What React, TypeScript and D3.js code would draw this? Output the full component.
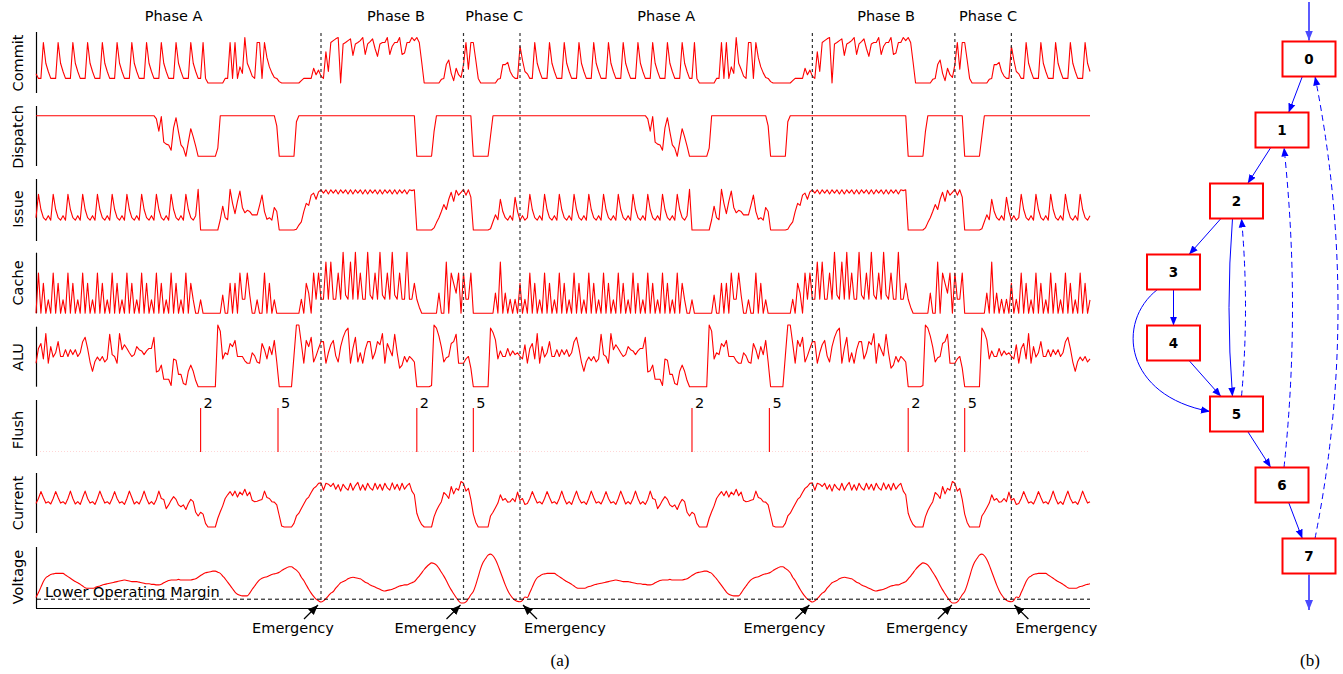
import { useEffect, useRef } from 'react'
import * as d3 from 'd3'

// One loop iteration of the workload (Phase A -> B -> C), 200 samples.
// The trace shows this iteration twice and then the start of a third one.
const commitCycle = [
  20, 10, 10, 88, 43, 25, 10, 10, 10, 88,
  43, 25, 10, 10, 10, 88, 43, 25, 10, 10,
  10, 88, 43, 25, 10, 10, 10, 88, 43, 25,
  10, 10, 10, 88, 43, 25, 10, 10, 10, 88,
  43, 25, 10, 10, 10, 88, 43, 25, 10, 10,
  10, 88, 43, 25, 10, 10, 10, 88, 43, 25,
  10, 10, 10, 88, 43, 25, 10, 10, 88, 10,
  0, 0, 0, 0, 0, 0, 0, 10, 10, 88,
  10, 88, 10, 35, 21, 99, 43, 30, 15, 10,
  88, 88, 10, 88, 55, 35, 22, 12, 10, 3,
  0, 0, 0, 0, 0, 0, 0, 0, 5, 10,
  10, 10, 10, 32, 18, 28, 15, 10, 68, 25,
  88, 92, 96, 99, 0, 85, 88, 92, 96, 60,
  85, 88, 92, 99, 62, 85, 90, 96, 75, 58,
  85, 88, 88, 99, 62, 80, 88, 88, 99, 62,
  65, 88, 88, 99, 92, 99, 88, 45, 0, 0,
  0, 0, 0, 0, 0, 8, 10, 40, 50, 21,
  5, 32, 18, 12, 40, 88, 30, 88, 88, 50,
  10, 0, 0, 0, 0, 0, 0, 0, 8, 10,
  40, 40, 45, 25, 15, 10, 10, 80, 50, 25,
]

const dispatchCycle = [
  100, 100, 100, 100, 100, 100, 100, 100, 100, 100,
  100, 100, 100, 100, 100, 100, 100, 100, 100, 100,
  100, 100, 100, 100, 100, 100, 100, 100, 100, 100,
  100, 100, 100, 100, 100, 100, 100, 100, 100, 100,
  100, 100, 100, 100, 100, 100, 100, 100, 100, 92,
  62, 98, 35, 30, 28, 15, 70, 95, 60, 28,
  20, 0, 35, 68, 48, 25, 0, 0, 0, 0,
  0, 0, 0, 0, 20, 100, 100, 100, 100, 100,
  100, 100, 100, 100, 100, 100, 100, 100, 100, 100,
  100, 100, 100, 100, 100, 100, 100, 100, 75, 0,
  0, 0, 0, 0, 0, 0, 85, 100, 100, 100,
  100, 100, 100, 100, 100, 100, 100, 100, 100, 100,
  100, 100, 100, 100, 100, 100, 100, 100, 100, 100,
  100, 100, 100, 100, 100, 100, 100, 100, 100, 100,
  100, 100, 100, 100, 100, 100, 100, 100, 100, 100,
  100, 100, 100, 100, 100, 0, 0, 0, 0, 0,
  0, 0, 60, 100, 100, 100, 100, 100, 100, 100,
  100, 100, 100, 100, 100, 100, 100, 100, 0, 0,
  0, 0, 0, 0, 0, 50, 100, 100, 100, 100,
  100, 100, 100, 100, 100, 100, 100, 100, 100, 100,
]

const issueCycle = [
  30, 87, 50, 30, 24, 35, 24, 87, 50, 30,
  24, 35, 24, 87, 50, 30, 24, 35, 24, 87,
  50, 30, 24, 35, 24, 87, 50, 30, 24, 35,
  24, 87, 50, 30, 24, 35, 24, 87, 50, 30,
  24, 35, 24, 87, 50, 30, 24, 35, 24, 87,
  50, 30, 24, 35, 24, 87, 50, 30, 24, 35,
  24, 87, 50, 30, 24, 35, 99, 0, 0, 0,
  0, 0, 0, 0, 0, 25, 58, 30, 25, 99,
  65, 40, 70, 95, 55, 42, 48, 45, 37, 37,
  37, 60, 85, 45, 26, 30, 24, 55, 45, 0,
  0, 0, 0, 0, 0, 0, 2, 12, 20, 45,
  65, 60, 85, 90, 75, 93, 98, 90, 98, 88,
  98, 90, 98, 88, 98, 90, 98, 88, 98, 88,
  98, 90, 98, 88, 98, 88, 98, 90, 98, 88,
  98, 88, 98, 90, 98, 88, 98, 88, 98, 90,
  98, 88, 98, 96, 98, 0, 0, 0, 0, 0,
  0, 0, 5, 18, 30, 45, 62, 50, 75, 92,
  70, 97, 85, 92, 99, 85, 98, 80, 0, 0,
  0, 0, 0, 0, 0, 3, 20, 37, 25, 75,
  45, 30, 24, 35, 24, 80, 45, 24, 35, 24,
]

const cacheCycle = [
  0, 66, 0, 49, 0, 22, 0, 66, 0, 49,
  0, 22, 0, 66, 0, 49, 0, 22, 0, 66,
  0, 49, 0, 22, 0, 66, 0, 49, 0, 22,
  0, 66, 0, 49, 0, 22, 0, 66, 0, 49,
  0, 22, 0, 66, 0, 49, 0, 22, 0, 66,
  0, 49, 0, 22, 0, 66, 0, 49, 0, 22,
  0, 66, 0, 49, 22, 0, 0, 22, 0, 0,
  0, 0, 0, 0, 0, 0, 30, 0, 0, 49,
  0, 49, 0, 66, 23, 23, 66, 30, 0, 0,
  22, 0, 0, 66, 0, 49, 0, 22, 0, 0,
  0, 0, 0, 0, 0, 0, 0, 0, 23, 0,
  49, 33, 0, 66, 23, 66, 23, 23, 84, 23,
  84, 23, 23, 66, 23, 100, 30, 23, 84, 23,
  100, 23, 66, 23, 23, 100, 30, 23, 66, 23,
  100, 30, 23, 66, 23, 100, 30, 23, 66, 23,
  23, 100, 23, 23, 49, 23, 10, 0, 0, 0,
  0, 0, 0, 0, 33, 0, 0, 84, 0, 66,
  49, 33, 66, 0, 66, 23, 23, 66, 0, 0,
  0, 0, 0, 0, 0, 0, 0, 33, 0, 84,
  0, 33, 0, 23, 0, 23, 0, 49, 0, 23,
]

const aluCycle = [
  38, 62, 70, 45, 86, 38, 65, 48, 55, 73,
  49, 49, 60, 49, 60, 52, 60, 49, 55, 73,
  80, 62, 40, 25, 41, 48, 42, 49, 40, 45,
  85, 52, 49, 38, 86, 60, 68, 62, 55, 49,
  52, 65, 60, 58, 52, 58, 62, 62, 80, 24,
  26, 35, 12, 12, 12, 2, 45, 43, 20, 20,
  5, 3, 25, 35, 25, 10, 0, 0, 0, 0,
  0, 0, 0, 0, 100, 90, 45, 55, 52, 70,
  65, 75, 49, 49, 49, 42, 38, 38, 55, 50,
  40, 38, 70, 60, 45, 65, 52, 75, 40, 0,
  0, 0, 0, 0, 0, 50, 100, 100, 70, 38,
  75, 65, 80, 40, 50, 62, 73, 73, 38, 55,
  68, 75, 50, 40, 65, 80, 90, 95, 38, 62,
  80, 40, 55, 38, 60, 73, 73, 45, 55, 73,
  68, 86, 38, 70, 60, 50, 85, 55, 30, 35,
  49, 40, 49, 45, 40, 0, 0, 0, 0, 0,
  0, 2, 100, 95, 82, 64, 40, 47, 49, 70,
  73, 85, 38, 38, 38, 45, 49, 30, 0, 0,
  0, 0, 0, 0, 0, 95, 88, 76, 45, 58,
  49, 49, 62, 50, 58, 52, 55, 49, 45, 68,
]

const currentCycle = [
  51, 62, 77, 64, 52, 55, 50, 62, 77, 64,
  52, 55, 50, 62, 78, 62, 50, 55, 49, 64,
  78, 62, 52, 55, 49, 62, 78, 64, 52, 55,
  50, 62, 77, 62, 52, 55, 49, 62, 78, 64,
  50, 55, 50, 62, 78, 62, 50, 55, 49, 60,
  78, 62, 60, 40, 48, 58, 66, 60, 48, 44,
  48, 38, 51, 60, 55, 32, 24, 32, 28, 8,
  0, 0, 0, 0, 19, 33, 46, 62, 70, 77,
  68, 78, 65, 76, 70, 82, 68, 76, 58, 55,
  56, 58, 60, 78, 64, 62, 55, 54, 48, 25,
  2, 0, 0, 0, 0, 8, 24, 30, 40, 50,
  60, 65, 75, 84, 88, 95, 96, 80, 95, 93,
  88, 95, 82, 92, 78, 93, 85, 80, 95, 80,
  90, 97, 80, 92, 80, 95, 85, 80, 95, 82,
  93, 80, 95, 85, 80, 96, 82, 93, 80, 95,
  82, 90, 95, 78, 70, 30, 15, 5, 0, 0,
  0, 0, 22, 36, 46, 55, 75, 70, 62, 88,
  72, 84, 80, 99, 95, 78, 84, 60, 28, 10,
  0, 0, 0, 0, 0, 24, 32, 42, 52, 70,
  58, 62, 54, 55, 62, 55, 76, 58, 62, 49,
]

const voltageCycle = [
  19, 28, 38, 48, 55, 58, 61, 62, 63, 63,
  63, 63, 60, 57, 54, 51, 48, 46, 43, 40,
  37, 36, 36, 36, 37, 39, 40, 42, 43, 44,
  45, 46, 47, 48, 49, 50, 51, 50, 49, 48,
  48, 48, 47, 46, 45, 44, 44, 43, 43, 42,
  42, 43, 46, 48, 50, 51, 51, 51, 52, 51,
  51, 51, 51, 51, 52, 53, 56, 59, 62, 64,
  65, 66, 67, 67, 65, 63, 58, 53, 47, 41,
  35, 29, 25, 23, 22, 22, 22, 27, 34, 40,
  46, 51, 54, 56, 57, 59, 61, 62, 63, 65,
  68, 71, 73, 75, 75, 72, 69, 64, 56, 50,
  42, 34, 27, 21, 16, 13, 11, 13, 17, 22,
  27, 30, 36, 41, 46, 48, 50, 53, 55, 56,
  55, 54, 53, 50, 47, 45, 42, 40, 38, 36,
  34, 32, 31, 32, 33, 34, 36, 38, 40, 41,
  42, 42, 44, 46, 48, 53, 58, 64, 70, 75,
  79, 82, 81, 78, 72, 65, 58, 50, 41, 33,
  26, 19, 13, 9, 9, 11, 17, 24, 30, 42,
  57, 72, 83, 90, 96, 98, 95, 88, 78, 66,
  54, 42, 32, 24, 18, 14, 12, 11.5, 14, 20,
]

const TOTAL_SAMPLES = 430
const operatingMargin = 16

const emergencyTimes = [116, 174, 197, 316, 374, 397]
const phaseNames = ['Phase A', 'Phase B', 'Phase C', 'Phase A', 'Phase B', 'Phase C']
const phaseCenters = [56, 146.5, 186.5, 256.5, 346, 387.5]
const flushTimes = [67, 98.5, 155, 178, 267, 298.5, 355, 378]
const flushBlocks = ['2', '5', '2', '5', '2', '5', '2', '5']

// control flow graph of the loop (b)
const nodeIds = ['0', '1', '2', '3', '4', '5', '6', '7']
const nodeLane = [3, 2, 1, 0, 0, 1, 2, 3]
const forwardEdges: [number, number][] = [[0, 1], [1, 2], [2, 3], [3, 4], [4, 5], [5, 6], [6, 7]]
const backEdges: [number, number][] = [[5, 2], [6, 1], [7, 0]]

const RED = '#ff0000'
const BLUE = '#0000ff'
const FONT = 'DejaVu Sans, Verdana, sans-serif'

const repeatCycle = (cycle: number[]) =>
  d3.range(TOTAL_SAMPLES).map(i => cycle[i % cycle.length])

const App = () => {
  const svgRef = useRef<SVGSVGElement>(null)

  useEffect(() => {
    if (!svgRef.current) return
    const svg = d3.select(svgRef.current)
    svg.selectAll('*').remove()

    const x = d3.scaleLinear().domain([0, TOTAL_SAMPLES - 1]).range([36, 1090])

    const defs = svg.append('defs')
    const addMarker = (id: string, color: string, size: number) => {
      defs
        .append('marker')
        .attr('id', id)
        .attr('viewBox', '0 0 10 10')
        .attr('refX', 10)
        .attr('refY', 5)
        .attr('markerWidth', size)
        .attr('markerHeight', size)
        .attr('markerUnits', 'userSpaceOnUse')
        .attr('orient', 'auto')
        .append('path')
        .attr('d', 'M0,1L10,5L0,9z')
        .attr('fill', color)
    }
    addMarker('arrow-black', '#000', 10)
    addMarker('arrow-blue', BLUE, 9)
    addMarker('arrow-light', '#4a4aff', 10)

    // ---- (a) waveforms ----
    const rows = [
      { label: 'Commit', data: commitCycle, y0: 83, y1: 37, axis: [32, 93], labelY: 63 },
      { label: 'Dispatch', data: dispatchCycle, y0: 156.3, y1: 115.7, axis: [106, 166], labelY: 137 },
      { label: 'Issue', data: issueCycle, y0: 230, y1: 189, axis: [179, 241], labelY: 209 },
      { label: 'Cache', data: cacheCycle, y0: 313.3, y1: 252.3, axis: [252.7, 313.3], labelY: 283 },
      { label: 'ALU', data: aluCycle, y0: 386.7, y1: 325, axis: [326.7, 386.7], labelY: 357 },
      { label: 'Current', data: currentCycle, y0: 527, y1: 481, axis: [473, 533], labelY: 503 },
      { label: 'Voltage', data: voltageCycle, y0: 608, y1: 553, axis: [547, 608], labelY: 577 },
    ]

    const chart = svg.append('g')

    rows.forEach(row => {
      const y = d3.scaleLinear().domain([0, 100]).range([row.y0, row.y1])
      const line = d3
        .line<number>()
        .x((d, i) => x(i))
        .y(d => y(d))
      if (row.label === 'Voltage') line.curve(d3.curveMonotoneX)

      chart
        .append('line')
        .attr('x1', 36.5)
        .attr('x2', 36.5)
        .attr('y1', row.axis[0])
        .attr('y2', row.axis[1])
        .attr('stroke', '#000')
        .attr('stroke-width', 1.2)

      chart
        .append('path')
        .datum(repeatCycle(row.data))
        .attr('fill', 'none')
        .attr('stroke', RED)
        .attr('stroke-width', 1.1)
        .attr('stroke-linejoin', 'round')
        .attr('d', line)

      chart
        .append('text')
        .attr('transform', `translate(23,${row.labelY}) rotate(-90)`)
        .attr('text-anchor', 'middle')
        .style('font-family', FONT)
        .style('font-size', '14.5px')
        .text(row.label)
    })

    // Flush row
    chart
      .append('line')
      .attr('x1', 36.5)
      .attr('x2', 36.5)
      .attr('y1', 400)
      .attr('y2', 456)
      .attr('stroke', '#000')
      .attr('stroke-width', 1.2)
    chart
      .append('line')
      .attr('x1', 37)
      .attr('x2', 1090)
      .attr('y1', 451.5)
      .attr('y2', 451.5)
      .attr('stroke', '#ffd6d6')
      .attr('stroke-dasharray', '1,2')
    chart
      .append('text')
      .attr('transform', 'translate(23,430) rotate(-90)')
      .attr('text-anchor', 'middle')
      .style('font-family', FONT)
      .style('font-size', '14.5px')
      .text('Flush')
    flushTimes.forEach((t, i) => {
      chart
        .append('line')
        .attr('x1', x(t))
        .attr('x2', x(t))
        .attr('y1', 408)
        .attr('y2', 452)
        .attr('stroke', RED)
        .attr('stroke-width', 1.1)
      chart
        .append('text')
        .attr('x', x(t) + 3)
        .attr('y', 408)
        .style('font-family', FONT)
        .style('font-size', '14.5px')
        .text(flushBlocks[i])
    })

    // phase labels
    phaseNames.forEach((name, i) => {
      chart
        .append('text')
        .attr('x', x(phaseCenters[i]))
        .attr('y', 20.5)
        .attr('text-anchor', 'middle')
        .style('font-family', FONT)
        .style('font-size', '14.5px')
        .text(name)
    })

    // operating margin and time axis
    const vScale = d3.scaleLinear().domain([0, 100]).range([608, 553])
    chart
      .append('line')
      .attr('x1', 37)
      .attr('x2', 1090)
      .attr('y1', vScale(operatingMargin))
      .attr('y2', vScale(operatingMargin))
      .attr('stroke', '#000')
      .attr('stroke-width', 1)
      .attr('stroke-dasharray', '4,3')
    chart
      .append('text')
      .attr('x', 45)
      .attr('y', 597)
      .style('font-family', FONT)
      .style('font-size', '14.5px')
      .text('Lower Operating Margin')
    chart
      .append('line')
      .attr('x1', 36)
      .attr('x2', 1090)
      .attr('y1', 608.5)
      .attr('y2', 608.5)
      .attr('stroke', '#000')
      .attr('stroke-width', 1.2)

    // emergencies
    emergencyTimes.forEach((t, i) => {
      const ex = x(t)
      chart
        .append('line')
        .attr('x1', ex)
        .attr('x2', ex)
        .attr('y1', 33)
        .attr('y2', 603)
        .attr('stroke', '#333')
        .attr('stroke-width', 1.2)
        .attr('stroke-dasharray', '3,3')

      const toRight = i % 3 === 2
      const dir = toRight ? 1 : -1
      chart
        .append('line')
        .attr('x1', ex + dir * 17)
        .attr('y1', 619)
        .attr('x2', ex + dir * 3)
        .attr('y2', 605)
        .attr('stroke', '#000')
        .attr('stroke-width', 1.2)
        .attr('marker-end', 'url(#arrow-black)')
      chart
        .append('text')
        .attr('x', toRight ? ex + 45 : ex - 28)
        .attr('y', 632.5)
        .attr('text-anchor', 'middle')
        .style('font-family', FONT)
        .style('font-size', '14.5px')
        .text('Emergency')
    })

    svg
      .append('text')
      .attr('x', 560)
      .attr('y', 666)
      .attr('text-anchor', 'middle')
      .style('font-family', 'Liberation Serif, Times New Roman, serif')
      .style('font-size', '17px')
      .text('(a)')

    // ---- (b) loop graph ----
    const yNode = d3.scaleLinear().domain([0, nodeIds.length - 1]).range([59, 556])
    const xLane = d3.scaleOrdinal<number, number>().domain([0, 1, 2, 3]).range([1173.5, 1236.5, 1282, 1309])
    const nodes = nodeIds.map((id, i) => ({ id, x: xLane(nodeLane[i]), y: yNode(i) }))
    const hw = 26.5
    const hh = 17.5

    const graph = svg.append('g')

    const clip = (a: { x: number; y: number }, b: { x: number; y: number }) => {
      const dx = b.x - a.x
      const dy = b.y - a.y
      const t = Math.min(Math.abs(hh / dy), dx === 0 ? Infinity : Math.abs(hw / dx))
      return { x: a.x + dx * t, y: a.y + dy * t }
    }

    // entry / exit arrows
    graph
      .append('line')
      .attr('x1', nodes[0].x)
      .attr('x2', nodes[0].x)
      .attr('y1', 2)
      .attr('y2', nodes[0].y - hh - 1)
      .attr('stroke', '#4a4aff')
      .attr('stroke-width', 1.8)
      .attr('marker-end', 'url(#arrow-light)')
    graph
      .append('line')
      .attr('x1', nodes[7].x)
      .attr('x2', nodes[7].x)
      .attr('y1', nodes[7].y + hh + 1)
      .attr('y2', 610)
      .attr('stroke', '#4a4aff')
      .attr('stroke-width', 1.8)
      .attr('marker-end', 'url(#arrow-light)')

    forwardEdges.forEach(([s, t]) => {
      const p0 = clip(nodes[s], nodes[t])
      const p1 = clip(nodes[t], nodes[s])
      graph
        .append('line')
        .attr('x1', p0.x)
        .attr('y1', p0.y)
        .attr('x2', p1.x)
        .attr('y2', p1.y)
        .attr('stroke', BLUE)
        .attr('stroke-width', 1)
        .attr('marker-end', 'url(#arrow-blue)')
    })

    const n = nodes
    // 3 -> 5 around the left, 2 -> 5 straight down
    const p35 = d3.path()
    p35.moveTo(n[3].x - 16, n[3].y + hh)
    p35.bezierCurveTo(n[3].x - 58, n[3].y + 50, n[5].x - 112, n[5].y - 18, n[5].x - hw, n[5].y - 2.5)
    const p25 = d3.path()
    p25.moveTo(n[2].x - 4, n[2].y + hh)
    p25.quadraticCurveTo(n[2].x - 11, (n[2].y + n[5].y) / 2, n[5].x - 4, n[5].y - hh)
    ;[p35, p25].forEach(p => {
      graph
        .append('path')
        .attr('d', p.toString())
        .attr('fill', 'none')
        .attr('stroke', BLUE)
        .attr('stroke-width', 1)
        .attr('marker-end', 'url(#arrow-blue)')
    })

    // back edges (dashed)
    const bulge: Record<string, number> = { '5-2': 13, '6-1': 19, '7-0': 52 }
    const startOff: Record<string, number> = { '5-2': 5, '6-1': 2, '7-0': 6 }
    backEdges.forEach(([s, t]) => {
      const key = `${s}-${t}`
      const p = d3.path()
      p.moveTo(n[s].x + startOff[key], n[s].y - hh)
      p.quadraticCurveTo(n[t].x + bulge[key], (n[s].y + n[t].y) / 2, n[t].x + startOff[key], n[t].y + hh)
      graph
        .append('path')
        .attr('d', p.toString())
        .attr('fill', 'none')
        .attr('stroke', BLUE)
        .attr('stroke-width', 1)
        .attr('stroke-dasharray', '6,4')
        .attr('marker-end', 'url(#arrow-blue)')
    })

    nodes.forEach(node => {
      graph
        .append('rect')
        .attr('x', node.x - hw)
        .attr('y', node.y - hh)
        .attr('width', hw * 2)
        .attr('height', hh * 2)
        .attr('fill', '#fff')
        .attr('stroke', RED)
        .attr('stroke-width', 2)
      graph
        .append('text')
        .attr('x', node.x)
        .attr('y', node.y + 5)
        .attr('text-anchor', 'middle')
        .style('font-family', FONT)
        .style('font-weight', 'bold')
        .style('font-size', '13.5px')
        .text(node.id)
    })

    svg
      .append('text')
      .attr('x', 1310)
      .attr('y', 666)
      .attr('text-anchor', 'middle')
      .style('font-family', 'Liberation Serif, Times New Roman, serif')
      .style('font-size', '17px')
      .text('(b)')
  }, [])

  return (
    <svg
      ref={svgRef}
      width={1343}
      height={674}
      style={{ position: 'absolute', left: 0, top: 0, background: '#fff' }}
    />
  )
}

export default App
